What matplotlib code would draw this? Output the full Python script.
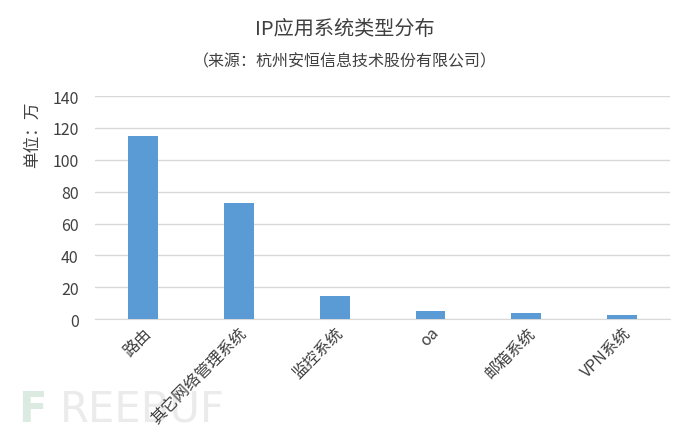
import matplotlib
matplotlib.use("Agg")
import matplotlib.pyplot as plt
import numpy as np

plt.rcParams['font.family'] = ['Noto Sans CJK SC', 'DejaVu Sans']

categories = ["路由", "其它网络管理系统", "监控系统", "oa", "邮箱系统", "VPN系统"]
values = [115, 73, 14.3, 5.0, 3.6, 2.7]

fig = plt.figure(figsize=(6.9, 4.35), dpi=100)
ax = fig.add_axes([0.138, 0.264, 0.833, 0.513])

x = np.arange(len(categories))
ax.bar(x, values, width=0.31, color="#5b9bd5", zorder=3)

ax.set_xlim(-0.5, len(categories) - 0.5)
ax.set_ylim(0, 140)
ax.set_yticks(np.arange(0, 141, 20))
ax.grid(axis="y", color="#d9d9d9", linewidth=1, zorder=0)
for s in ["top", "right", "left"]:
    ax.spines[s].set_visible(False)
ax.spines["bottom"].set_color("#d9d9d9")
ax.tick_params(axis="both", length=0, labelsize=11.5, colors="#404040")
ax.tick_params(axis="y", pad=12)
ax.set_xticks(x)
ax.set_xticklabels(categories, rotation=45, ha="right", rotation_mode="anchor")

ax.set_ylabel("单位：万", fontsize=12, color="#404040")
ax.yaxis.set_label_coords(-0.095, 0.83)

fig.text(0.5, 0.933, "IP应用系统类型分布", ha="center", va="center",
         fontsize=14.5, color="#404040")
fig.text(0.5, 0.857, "（来源：杭州安恒信息技术股份有限公司）", ha="center", va="center",
         fontsize=11.5, color="#404040")

# faint watermark behind everything
fig.text(0.026, 0.03, "F", fontsize=30, family="DejaVu Sans", fontweight="bold",
         color="#dcebe2", zorder=-1)
fig.text(0.087, 0.03, "REEBUF", fontsize=30, family="DejaVu Sans",
         color="#ebebeb", zorder=-1)

fig.savefig("out.png", dpi=100)
